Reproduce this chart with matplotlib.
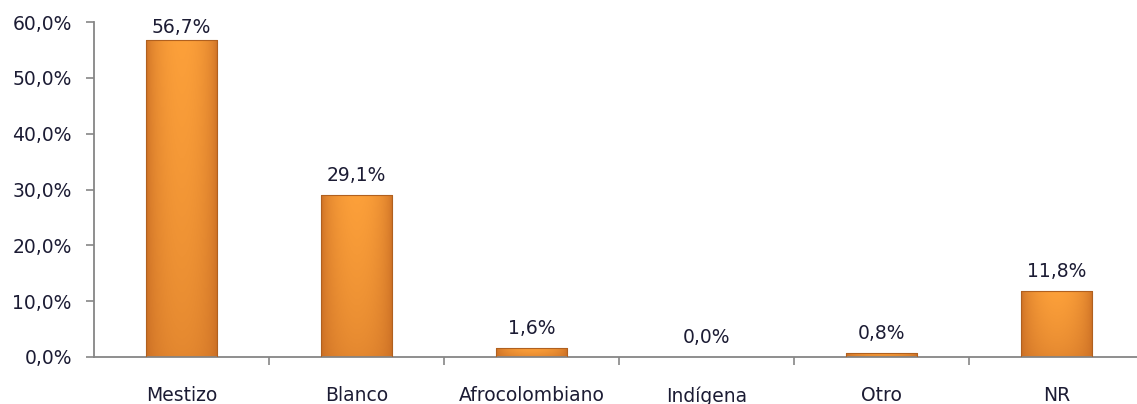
import numpy as np
import matplotlib.pyplot as plt
from matplotlib.patches import Rectangle

categories = ['Mestizo', 'Blanco', 'Afrocolombiano', 'Indígena', 'Otro', 'NR']
values = [56.7, 29.1, 1.6, 0.0, 0.8, 11.8]
yticks = [0, 10, 20, 30, 40, 50, 60]

plt.rcParams['font.family'] = ['DejaVu Sans']
txt_color = '#1c1c34'
axis_color = '#868686'
fs = 13.5

fig = plt.figure(figsize=(11.37, 4.04), dpi=100)
ax = fig.add_axes([94 / 1137, 1 - 357 / 404, 1050 / 1137, (357 - 22) / 404])

x = np.arange(len(categories))
width = 0.41
bars = ax.bar(x, values, width=width, color='none', edgecolor='none', zorder=2)

# shaded fill: bright in the middle, darker at the sides and bottom
light = np.array([252, 160, 58]) / 255
dark = np.array([196, 104, 34]) / 255
h = np.linspace(0, 1, 80)
v = np.linspace(0, 1, 80)[:, None]
f = np.sin(np.pi * h)[None, :] ** 0.45
g = 0.55 + 0.45 * v ** 0.7
mix = (f * g)[..., None]
img = dark + (light - dark) * mix

for b in bars:
    if b.get_height() <= 0:
        continue
    x0, w, hgt = b.get_x(), b.get_width(), b.get_height()
    im = ax.imshow(img, aspect='auto', origin='lower',
                   extent=[x0, x0 + w, 0, hgt], zorder=2, interpolation='bilinear')
    im.set_clip_path(Rectangle((x0, 0), w, hgt, transform=ax.transData))
    ax.add_patch(Rectangle((x0, 0), w, hgt, fill=False, edgecolor='#b0601f', lw=0.8, zorder=3))

# labels sit above the bar, pushed down when they would leave the plot
for xi, val in zip(x, values):
    ylab = min(val + 2.45, 58.0)
    ax.text(xi, ylab, f'{val:.1f}%'.replace('.', ','), ha='center', va='baseline',
            fontsize=fs, color=txt_color)

ax.set_xlim(-0.5, len(categories) - 0.5)
ax.set_ylim(0, 60)
ax.set_yticks(yticks)
ax.set_yticklabels([f'{t:.1f}%'.replace('.', ',') for t in yticks], fontsize=fs, color=txt_color)
ax.set_xticks(x)
ax.set_xticklabels(categories, fontsize=fs, color=txt_color)
ax.tick_params(axis='x', length=0, pad=21)
ax.set_xticks(np.arange(0.5, len(categories) - 0.5), minor=True)
ax.tick_params(axis='x', which='minor', length=6, color=axis_color, width=1.2)
ax.tick_params(axis='y', length=6, color=axis_color, width=1.2, pad=10)

for s in ['top', 'right']:
    ax.spines[s].set_visible(False)
for s in ['left', 'bottom']:
    ax.spines[s].set_color(axis_color)
    ax.spines[s].set_linewidth(1.3)

fig.savefig('out.png', dpi=100)
